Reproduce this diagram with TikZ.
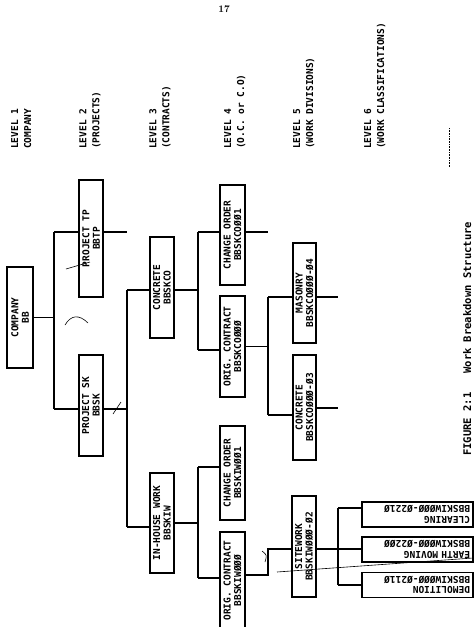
\documentclass[tikz,border=0pt]{standalone}
\usepackage{fontspec}
\newfontfamily\wbsfont{DejaVu Sans Mono}
\usetikzlibrary{positioning}
\tikzset{
  wbsbox/.style={draw=black, line width=1.2pt, rotate=90, inner sep=0pt,
                 minimum width=101, minimum height=24, align=center,
                 font=\wbsfont\bfseries\fontsize{9.5}{10.5}\selectfont},
  classbox/.style={draw=black, line width=1.2pt, rotate=180, inner xsep=3pt,
                 inner ysep=0pt, minimum width=111, minimum height=25,
                 text width=105, align=left,
                 font=\wbsfont\bfseries\fontsize{9.5}{10.5}\selectfont},
  levellabel/.style={rotate=90, anchor=north west, inner sep=0pt, align=left,
                 font=\wbsfont\bfseries\fontsize{9.5}{13}\selectfont},
  edge/.style={line width=1.2pt},
  scribble/.style={line width=0.6pt},
}

\begin{document}
\begin{tikzpicture}[x=1pt, y=-1pt]
    \useasboundingbox (0,0) rectangle (474,627);
    %% page number and level captions
    \node[font=\bfseries\fontsize{10}{12}\selectfont, inner sep=0pt] (pagenum) at (224,9) {17};
    \node[levellabel] (lv1) at (11,149)  {LEVEL 1\\COMPANY};
    \node[levellabel] (lv2) at (79,149)  {LEVEL 2\\(PROJECTS)};
    \node[levellabel] (lv3) at (149,149) {LEVEL 3\\(CONTRACTS)};
    \node[levellabel] (lv4) at (224,149) {LEVEL 4\\(O.C. or C.O)};
    \node[levellabel] (lv5) at (293,149) {LEVEL 5\\(WORK DIVISIONS)};
    \node[levellabel] (lv6) at (364,149) {LEVEL 6\\(WORK CLASSIFICATIONS)};
    \draw[scribble, densely dotted] (449,128) -- (449,167);
    %% level 1 and 2
    \node[wbsbox, minimum height=26] (bb) at (20,317.5) {COMPANY\\BB};
    \node[wbsbox, minimum width=117] (bbtp) at (91,238.5) {PROJECT TP\\BBTP};
    \node[wbsbox] (bbsk) at (91,405.5) {PROJECT SK\\BBSK};
    %% level 3
    \node[wbsbox] (bbskco) at (162,287.5) {CONCRETE\\BBSKCO};
    \node[wbsbox, minimum width=100] (bbskiw) at (162,523) {IN-HOUSE WORK\\BBSKIW};
    %% level 4
    \node[wbsbox, minimum height=25, minimum width=100] (co001) at (232.5,235) {CHANGE ORDER\\BBSKCOØØ1};
    \node[wbsbox, minimum height=25] (co000) at (232.5,346.5) {ORIG. CONTRACT\\BBSKCOØØØ};
    \node[wbsbox, minimum height=25, minimum width=94] (iw001) at (232.5,473) {CHANGE ORDER\\BBSKIWØØ1};
    \node[wbsbox, minimum height=25, minimum width=97] (iw000) at (232.5,580.5) {ORIG. CONTRACT\\BBSKIWØØØ};
    %% level 5
    \node[wbsbox, minimum height=23, minimum width=100] (co04) at (304.5,293) {MASONRY\\BBSKCOØØØ-Ø4};
    \node[wbsbox, minimum height=23, minimum width=105] (co03) at (304.5,407.5) {CONCRETE\\BBSKCOØØØ-Ø3};
    \node[wbsbox] (iw02) at (304,546.5) {SITEWORK\\BBSKIWØØØ-Ø2};
    %% level 6
    \node[classbox] (iw0221) at (417.5,514.5) {CLEARING\\BBSKIWØØØ-Ø221Ø};
    \node[classbox] (iw0220) at (417.5,549.5) {EARTH MOVING\\BBSKIWØØØ-Ø22ØØ};
    \node[classbox] (iw0211) at (417.5,585) {DEMOLITION\\BBSKIWØØØ-Ø211Ø};
    %% level 1 to level 2
    \coordinate (j1a) at (54,232);
    \coordinate (j1b) at (54,409);
    \coordinate (tpend) at (127,232);
    \draw[edge] (bb.south) -- (bb.south -| j1a);
    \draw[edge] (j1a) -- (j1b);
    \draw[edge] (j1a) -- (j1a -| bbtp.north);
    \draw[edge] (j1b) -- (j1b -| bbsk.north);
    \draw[edge] (tpend -| bbtp.south) -- (tpend);
    %% level 2 to level 3
    \coordinate (j2a) at (127,290);
    \coordinate (j2b) at (127,527);
    \draw[edge] (j1b -| bbsk.south) -- (j1b -| j2a);
    \draw[edge] (j2a) -- (j2b);
    \draw[edge] (j2a) -- (j2a -| bbskco.north);
    \draw[edge] (j2b) -- (j2b -| bbskiw.north);
    %% level 3 to level 4
    \coordinate (j3a) at (198,232);
    \coordinate (j3b) at (198,350);
    \coordinate (j3c) at (198,467);
    \coordinate (j3d) at (198,578);
    \draw[edge] (j2a -| bbskco.south) -- (j2a -| j3a);
    \draw[edge] (j3a) -- (j3b);
    \draw[edge] (j3a) -- (j3a -| co001.north);
    \draw[edge] (j3b) -- (j3b -| co000.north);
    \draw[edge] (bbskiw.south) -- (bbskiw.south -| j3c);
    \draw[edge] (j3c) -- (j3d);
    \draw[edge] (j3c) -- (j3c -| iw001.north);
    \draw[edge] (j3d) -- (j3d -| iw000.north);
    %% level 4 to level 5
    \coordinate (coend) at (268,232);
    \coordinate (j4a) at (268,297);
    \coordinate (j4b) at (268,415);
    \coordinate (j4c) at (268,549);
    \coordinate (j4d) at (268,575);
    \draw[edge] (coend -| co001.south) -- (coend);
    \draw[edge] (co000.south) -- (co000.south -| j4a);
    \draw[edge] (j4a) -- (j4b);
    \draw[edge] (j4a) -- (j4a -| co04.north);
    \draw[edge] (j4b) -- (j4b -| co03.north);
    \draw[edge] (j4d -| iw000.south) -- (j4d) -- (j4c) -- (j4c -| iw02.north);
    %% level 5 to level 6
    \coordinate (msend) at (338,297);
    \coordinate (ccend) at (338,408);
    \coordinate (j5a) at (338,508);
    \coordinate (j5b) at (338,585);
    \draw[edge] (msend -| co04.south) -- (msend);
    \draw[edge] (ccend -| co03.south) -- (ccend);
    \draw[edge] (j4c -| iw02.south) -- (j4c -| iw0220.east);
    \draw[edge] (j5a) -- (j5b);
    \draw[edge] (j5a) -- (j5a -| iw0221.east);
    \draw[edge] (j5b) -- (j5b -| iw0211.east);
    %% pen marks on the sheet
    \draw[scribble] (65,325) .. controls (71,315) and (79,314) .. (88,323);
    \draw[scribble] (113,414) -- (121,402);
    \draw[scribble] (66,269) -- (90,262);
    \draw[scribble] (262,551) .. controls (267,555) .. (265,562);
    \draw[scribble] (277,572) -- (473,558);
    %% caption
    \node[rotate=90, anchor=base west, inner sep=0pt,
          font=\wbsfont\bfseries\fontsize{10.5}{12}\selectfont] (caption) at (471,456)
          {FIGURE 2:1\ \ \ Work Breakdown Structure};
\end{tikzpicture}
\end{document}
